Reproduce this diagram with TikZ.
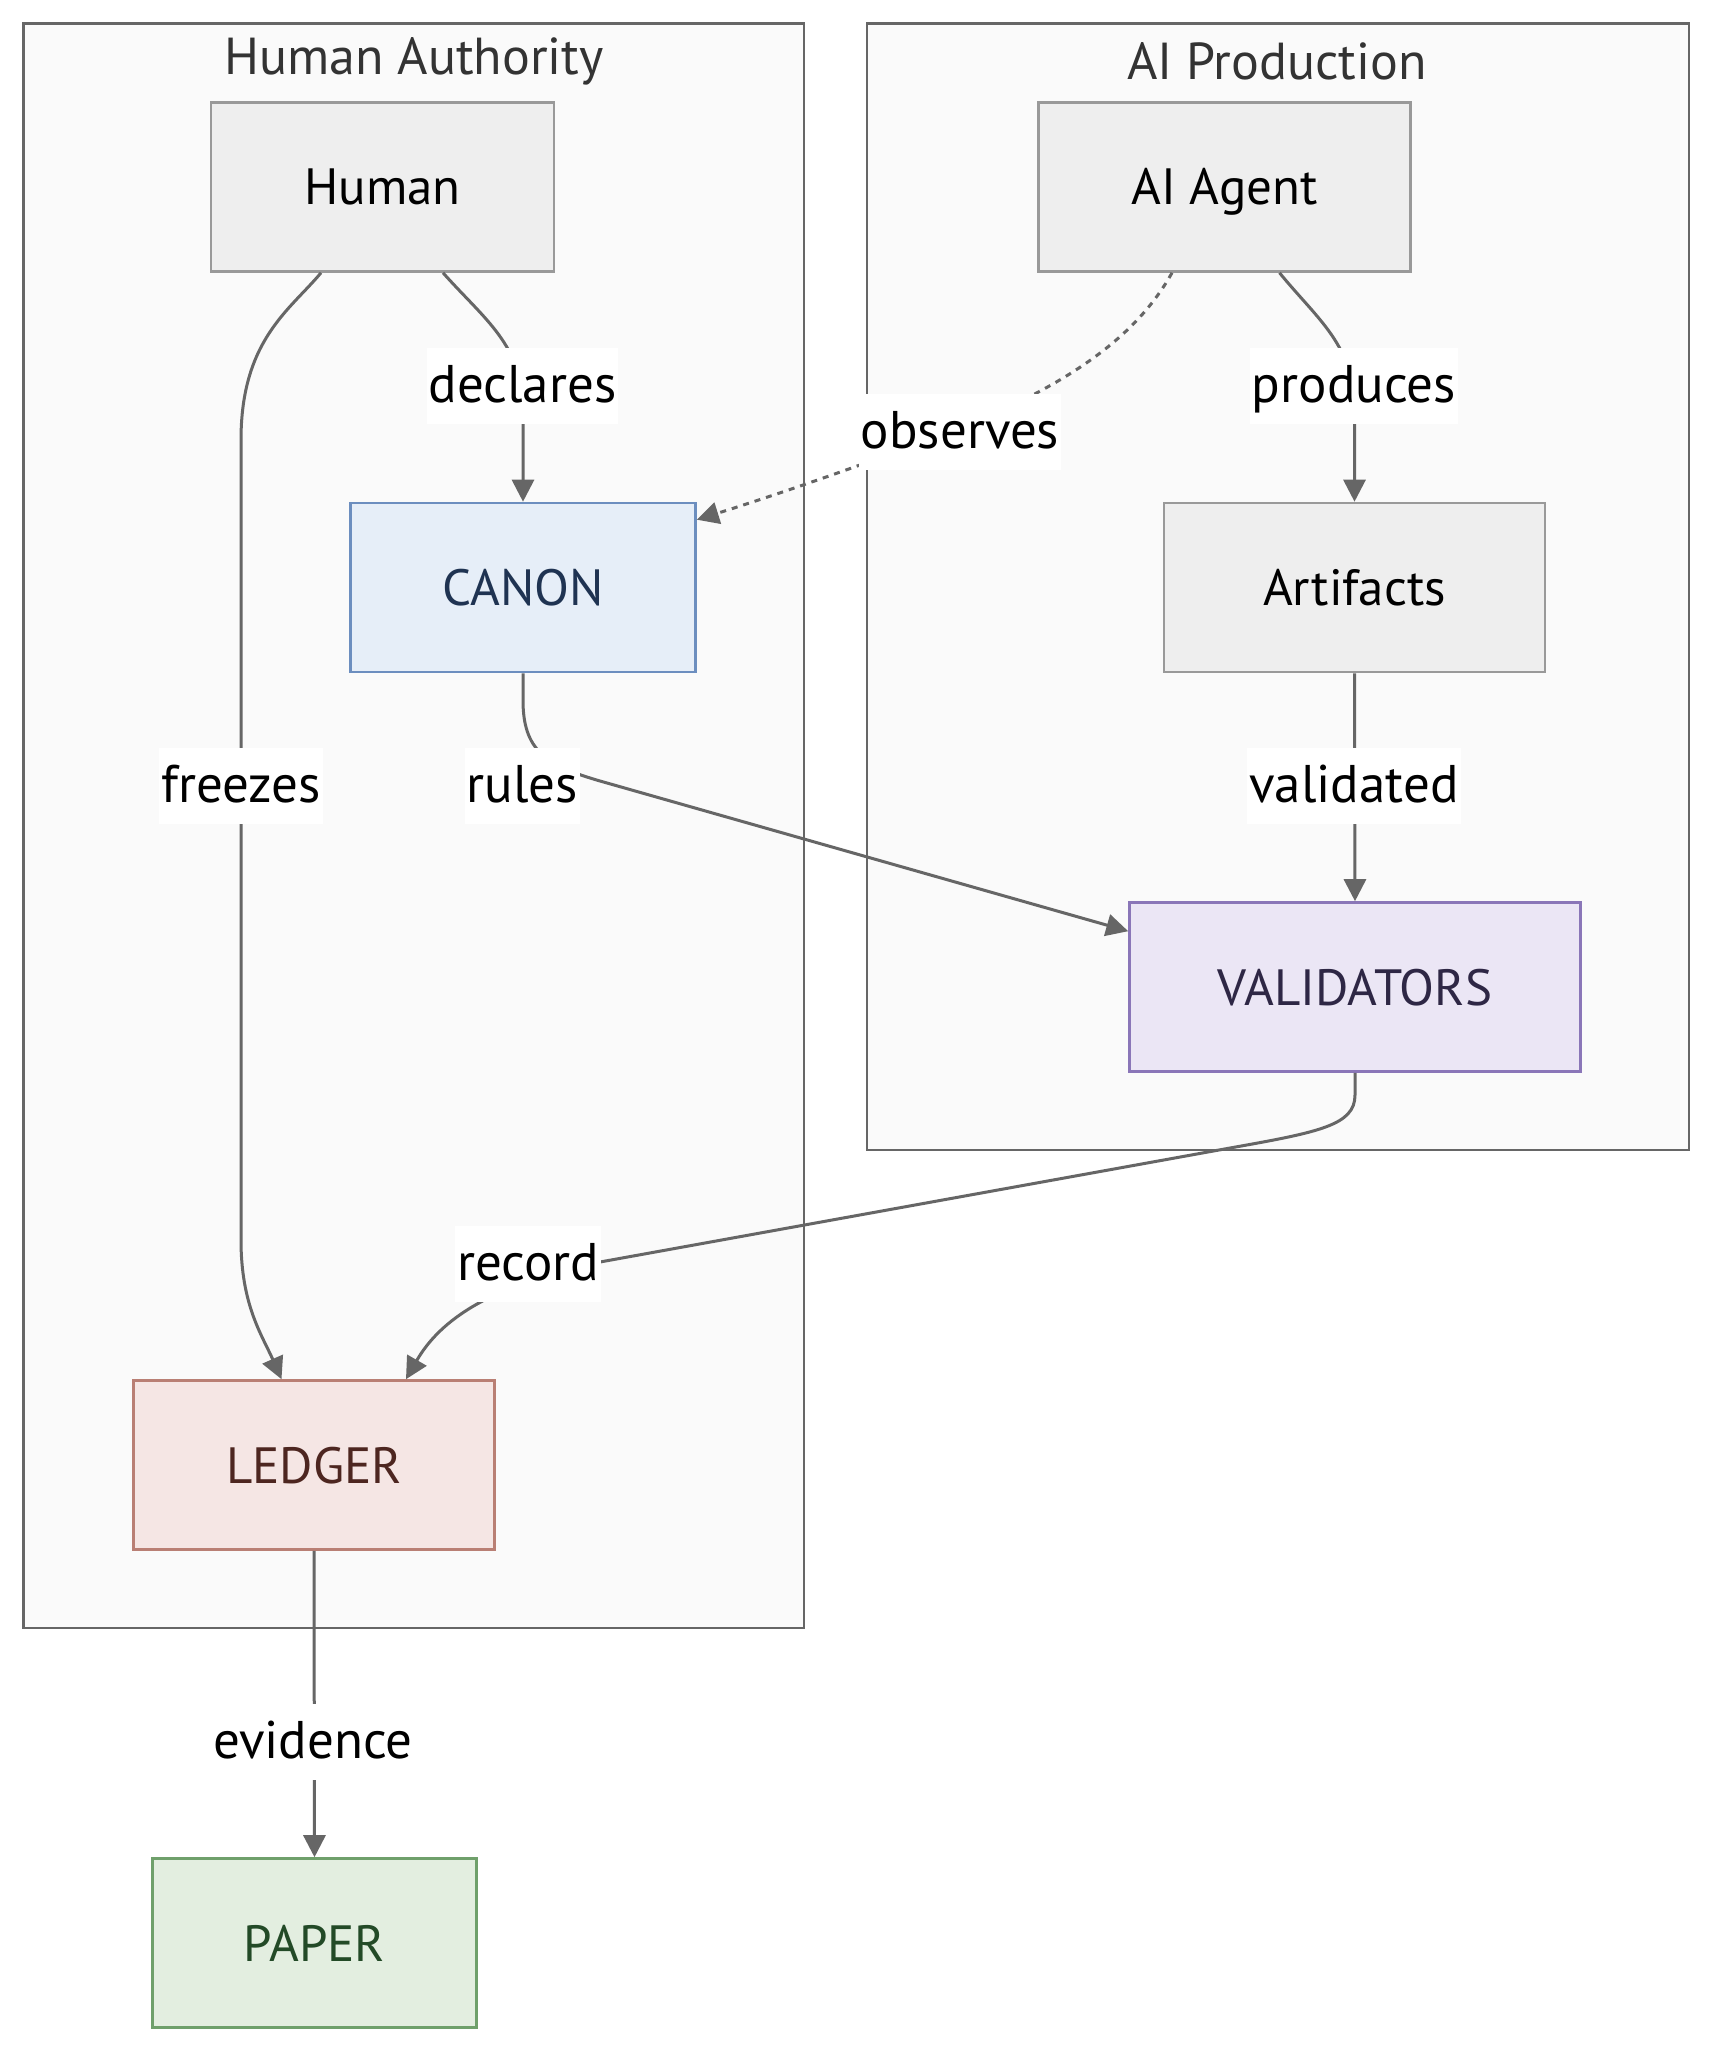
\documentclass[tikz,border=0pt]{standalone}
\usepackage{fontspec}
\setmainfont{PT Sans}
\usetikzlibrary{arrows.meta,calc}
\definecolor{edgec}{HTML}{666666}
\definecolor{clfill}{HTML}{FAFAFA}
\definecolor{clline}{HTML}{666666}
\definecolor{ndfill}{HTML}{EEEEEE}
\definecolor{ndline}{HTML}{999999}
\definecolor{canfill}{HTML}{E6EEF8}
\definecolor{canline}{HTML}{6C8EBF}
\definecolor{cantext}{HTML}{1F3352}
\definecolor{valfill}{HTML}{EBE6F5}
\definecolor{valline}{HTML}{8A76B8}
\definecolor{valtext}{HTML}{2E2745}
\definecolor{ledfill}{HTML}{F5E6E4}
\definecolor{ledline}{HTML}{B97F74}
\definecolor{ledtext}{HTML}{4D2620}
\definecolor{papfill}{HTML}{E3EEE0}
\definecolor{papline}{HTML}{6FA06B}
\definecolor{paptext}{HTML}{234A27}
\definecolor{titletext}{HTML}{333333}
\tikzset{
  cluster/.style={draw=clline, fill=clfill, line width=1.3pt},
  ctitle/.style={font=\fontsize{26}{30}\selectfont, text=titletext, inner sep=0pt},
  nodebox/.style={draw=ndline, fill=ndfill, line width=1.3pt, minimum height=84.5pt, font=\fontsize{25.5}{30}\selectfont, inner sep=0pt, text height=18pt, text depth=0pt},
  canbox/.style={nodebox, draw=canline, fill=canfill, text=cantext},
  valbox/.style={nodebox, draw=valline, fill=valfill, text=valtext},
  ledbox/.style={nodebox, draw=ledline, fill=ledfill, text=ledtext},
  papbox/.style={nodebox, draw=papline, fill=papfill, text=paptext},
  elabel/.style={fill=white, font=\fontsize{26.5}{30}\selectfont, inner xsep=1pt, inner ysep=0pt, text height=27pt, text depth=11pt},
  edge/.style={draw=edgec, line width=1.5pt, -{Triangle[length=11pt,width=11pt]}},
}
\begin{document}
\begin{tikzpicture}[x=0.5pt,y=-0.5pt]
\useasboundingbox[fill=white] (0,0) rectangle (1713,2054);
% clusters
\draw[cluster] (23.6,23.6) rectangle (804,1628);
\draw[cluster] (867,23.6) rectangle (1689,1150);
\node[ctitle] (tHA) at (414,61.5) {Human Authority};
\node[ctitle] (tAI) at (1277,61.5) {AI Production};
% nodes
\node[nodebox, minimum width=171.5pt] (Human) at (382.5,187) {Human};
\node[nodebox, minimum width=186pt] (Agent) at (1224.5,187) {AI Agent};
\node[canbox, minimum width=172.5pt] (Canon) at (523,587.5) {CANON};
\node[nodebox, minimum width=190.5pt] (Art) at (1354.5,587.5) {Artifacts};
\node[valbox, minimum width=225.5pt] (Val) at (1355,987) {VALIDATORS};
\node[ledbox, minimum width=180.5pt] (Led) at (314,1465) {LEDGER};
\node[papbox, minimum width=162pt] (Pap) at (314.5,1943) {PAPER};
% helper coordinates
\coordinate (hD) at ($(Human.south)+(60.5,0)$);
\coordinate (hF) at ($(Human.south)+(-61.5,0)$);
\coordinate (aO) at ($(Agent.south)+(-52.5,0)$);
\coordinate (aP) at ($(Agent.south)+(55,0)$);
\coordinate (cR) at ($(Canon.north east)+(0,18)$);
\coordinate (vR) at ($(Val.north west)+(0,30)$);
\coordinate (lF) at ($(Led.north)+(-32.5,0)$);
\coordinate (lR) at ($(Led.north)+(92,0)$);
% edges
\draw[edge] (hD) .. controls (485,320) and (523,345) .. (523,410) -- (Canon.north);
\draw[edge] (hF) .. controls (290,310) and (241,340) .. (241,440) -- (241,1240) .. controls (241,1305) and (262,1335) .. (lF);
\draw[edge, dash pattern=on 3pt off 3pt] (aO) .. controls (1140,330) and (1080,380) .. (960,428) .. controls (850,470) and (760,500) .. (cR);
\draw[edge] (aP) .. controls (1318,320) and (1354.5,345) .. (1354.5,410) -- (Art.north);
\draw[edge] (Art.south) -- (Val.north);
\draw[edge] (Canon.south) -- (523,700) .. controls (523,750) and (545,765) .. (600,781) -- (vR);
\draw[edge] (Val.south) -- (1355,1095) .. controls (1355,1125) and (1320,1132) .. (1230,1148) -- (600,1262) .. controls (490,1285) and (440,1320) .. (lR);
\draw[edge] (Led.south) -- (Pap.north);
% edge labels
\node[elabel] (lDecl) at (522.5,386) {declares};
\node[elabel] (lFrz) at (241,786) {freezes};
\node[elabel] (lRul) at (522.5,786) {rules};
\node[elabel] (lObs) at (960,432) {observes};
\node[elabel] (lProd) at (1354,386) {produces};
\node[elabel] (lVal) at (1354,786) {validated};
\node[elabel] (lRec) at (528,1264) {record};
\node[elabel] (lEv) at (313,1742) {evidence};
\end{tikzpicture}
\end{document}
